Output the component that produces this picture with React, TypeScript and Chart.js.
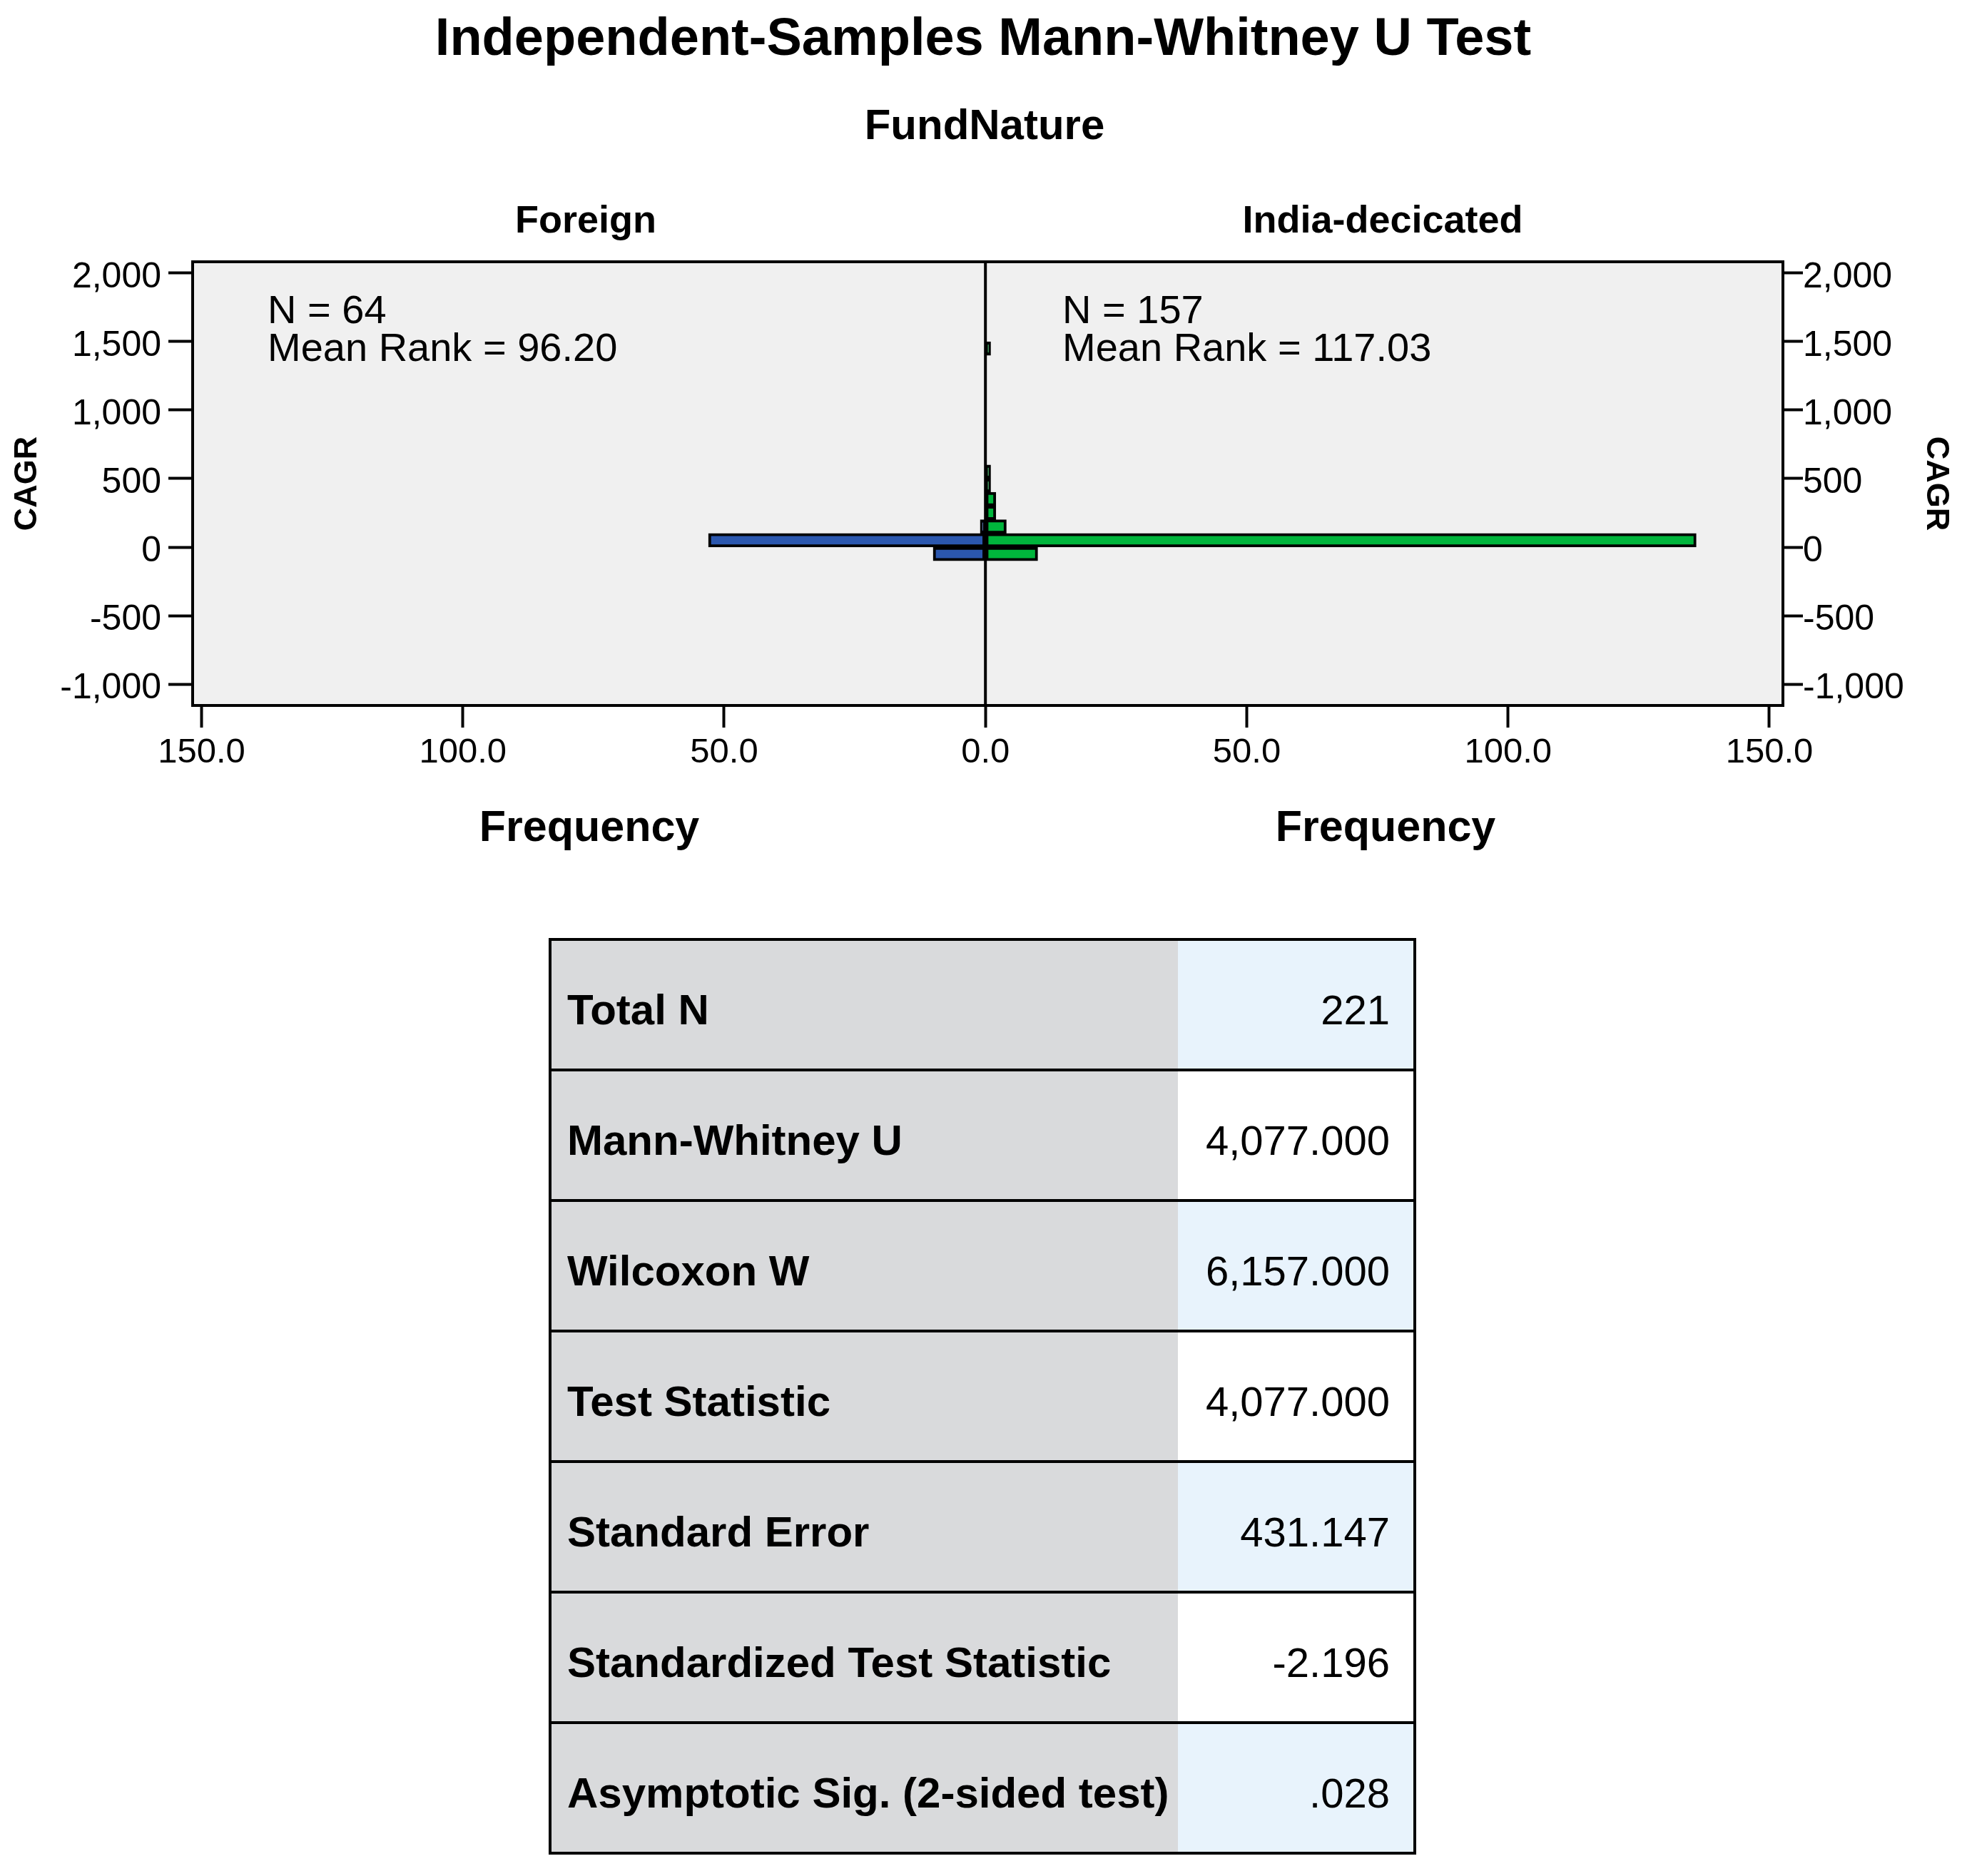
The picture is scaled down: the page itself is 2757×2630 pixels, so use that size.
import React, { useEffect, useRef } from "react";
import { Chart, registerables } from "chart.js";

Chart.register(...registerables);

// ---------- data ----------
const binCenters = [-50, 50, 150, 250, 350, 450, 550, 1450];
const foreignCounts = [10, 53, 1, 0, 0, 0, 0, 0];
const indiaCounts = [10, 136, 4, 2, 2, 1, 1, 1];
const yTickValues = [-1000, -500, 0, 500, 1000, 1500, 2000];
const xTickValues = [-150, -100, -50, 0, 50, 100, 150];
const groupNames = ["Foreign", "India-decicated"];
const groupN = [64, 157];
const groupMeanRank = ["96.20", "117.03"];
const chartTitle = "Independent-Samples Mann-Whitney U Test";
const groupingVariable = "FundNature";
const yAxisTitle = "CAGR";
const xAxisTitle = "Frequency";
const tableLabels = [
  "Total N",
  "Mann-Whitney U",
  "Wilcoxon W",
  "Test Statistic",
  "Standard Error",
  "Standardized Test Statistic",
  "Asymptotic Sig. (2-sided test)",
];
const tableValues = ["221", "4,077.000", "6,157.000", "4,077.000", "431.147", "-2.196", ".028"];

// ---------- layout / style ----------
const FONT = "Arial, 'Liberation Sans', Helvetica, sans-serif";
const W = 2757;
const CANVAS_H = 1230;
const PLOT_TOP = 367;
const PLOT_BOTTOM = 989;
const LEFT_AXIS_W = 270;
const RIGHT_AXIS_W = 258;
const Y_MIN = -1156;
const Y_MAX = 2083;
const X_MIN = -151.7;
const X_MAX = 152.6;
const BLUE = "#2B57AE";
const GREEN = "#00B53C";

const decorPlugin = {
  id: "decor",
  beforeDraw(chart: any) {
    const { ctx, chartArea: a } = chart;
    ctx.save();
    ctx.fillStyle = "#F0F0F0";
    ctx.fillRect(a.left, a.top, a.right - a.left, a.bottom - a.top);
    ctx.restore();
  },
  afterDatasetsDraw(chart: any) {
    const { ctx, chartArea: a } = chart;
    const x0 = chart.scales.x.getPixelForValue(0);
    ctx.save();
    ctx.strokeStyle = "#000";
    ctx.lineWidth = 4;
    ctx.beginPath();
    ctx.moveTo(x0, a.top);
    ctx.lineTo(x0, a.bottom);
    ctx.stroke();
    ctx.strokeRect(a.left, a.top, a.right - a.left, a.bottom - a.top);
    ctx.restore();
  },
  afterDraw(chart: any) {
    const { ctx } = chart;
    ctx.save();
    ctx.fillStyle = "#000";
    ctx.textBaseline = "middle";
    ctx.textAlign = "center";
    ctx.font = `bold 74px ${FONT}`;
    ctx.fillText(chartTitle, 1378, 57);
    ctx.font = `bold 60px ${FONT}`;
    ctx.fillText(groupingVariable, 1380, 178);
    ctx.font = `bold 54px ${FONT}`;
    ctx.fillText(groupNames[0], 821, 311);
    ctx.fillText(groupNames[1], 1938, 311);
    ctx.font = `bold 61px ${FONT}`;
    ctx.fillText(xAxisTitle, 826, 1162);
    ctx.fillText(xAxisTitle, 1942, 1162);

    ctx.textAlign = "left";
    ctx.font = `56px ${FONT}`;
    const nx = [375, 1489];
    for (let i = 0; i < 2; i++) {
      ctx.fillText(`N = ${groupN[i]}`, nx[i], 438);
      ctx.fillText(`Mean Rank = ${groupMeanRank[i]}`, nx[i], 491);
    }

    ctx.textAlign = "center";
    ctx.font = `bold 45px ${FONT}`;
    const cy = (chart.chartArea.top + chart.chartArea.bottom) / 2;
    ctx.save();
    ctx.translate(39, cy);
    ctx.rotate(-Math.PI / 2);
    ctx.fillText(yAxisTitle, 0, 0);
    ctx.restore();
    ctx.save();
    ctx.translate(2713, cy);
    ctx.rotate(Math.PI / 2);
    ctx.fillText(yAxisTitle, 0, 0);
    ctx.restore();
    ctx.restore();
  },
};

const yTickCb = (v: any) => Number(v).toLocaleString("en-US");

export default function App() {
  const canvasRef = useRef<HTMLCanvasElement | null>(null);

  useEffect(() => {
    if (!canvasRef.current) return;
    const foreignData = binCenters
      .map((c, i) => ({ y: c, x: -foreignCounts[i], n: foreignCounts[i] }))
      .filter((d) => d.n !== 0);
    const indiaData = binCenters
      .map((c, i) => ({ y: c, x: indiaCounts[i] }))
      .filter((d) => d.x !== 0);

    const chart = new Chart(canvasRef.current, {
      type: "bar",
      data: {
        datasets: [
          {
            label: groupNames[0],
            data: foreignData as any,
            backgroundColor: BLUE,
            borderColor: "#000",
            borderWidth: 4,
            borderSkipped: false,
            categoryPercentage: 1,
            barPercentage: 1,
            xAxisID: "x",
            yAxisID: "y",
          },
          {
            label: groupNames[1],
            data: indiaData as any,
            backgroundColor: GREEN,
            borderColor: "#000",
            borderWidth: 4,
            borderSkipped: false,
            categoryPercentage: 1,
            barPercentage: 1,
            xAxisID: "x",
            yAxisID: "y",
          },
        ],
      },
      options: {
        indexAxis: "y",
        responsive: false,
        animation: false,
        layout: { padding: { top: PLOT_TOP, left: 0, right: 0, bottom: 0 } },
        plugins: { legend: { display: false }, tooltip: { enabled: false }, title: { display: false } },
        scales: {
          x: {
            type: "linear",
            position: "bottom",
            min: X_MIN,
            max: X_MAX,
            offset: false,
            stacked: true,
            afterBuildTicks: (s: any) => {
              s.ticks = xTickValues.map((v) => ({ value: v }));
            },
            afterFit: (s: any) => {
              s.height = CANVAS_H - PLOT_BOTTOM;
            },
            grid: { offset: false, drawOnChartArea: false, drawTicks: true, tickLength: 31, tickWidth: 4, tickColor: "#000" },
            border: { display: true, color: "#000", width: 4 },
            ticks: {
              color: "#000",
              padding: 6,
              maxRotation: 0,
              autoSkip: false,
              font: { family: FONT, size: 49 },
              callback: (v: any) => Math.abs(Number(v)).toFixed(1),
            },
          },
          y: {
            type: "linear",
            position: "left",
            min: Y_MIN,
            max: Y_MAX,
            offset: false,
            stacked: true,
            afterBuildTicks: (s: any) => {
              s.ticks = yTickValues.map((v) => ({ value: v }));
            },
            afterFit: (s: any) => {
              s.width = LEFT_AXIS_W;
            },
            grid: { offset: false, drawOnChartArea: false, drawTicks: true, tickLength: 34, tickWidth: 4, tickColor: "#000" },
            border: { display: true, color: "#000", width: 4 },
            ticks: { color: "#000", padding: 10, labelOffset: 6, autoSkip: false, font: { family: FONT, size: 50 }, callback: yTickCb },
          },
          y2: {
            type: "linear",
            position: "right",
            min: Y_MIN,
            max: Y_MAX,
            offset: false,
            afterBuildTicks: (s: any) => {
              s.ticks = yTickValues.map((v) => ({ value: v }));
            },
            afterFit: (s: any) => {
              s.width = RIGHT_AXIS_W;
            },
            grid: { offset: false, drawOnChartArea: false, drawTicks: true, tickLength: 28, tickWidth: 4, tickColor: "#000" },
            border: { display: true, color: "#000", width: 4 },
            ticks: { color: "#000", padding: 0, labelOffset: 6, autoSkip: false, font: { family: FONT, size: 50 }, callback: yTickCb },
          },
        },
      } as any,
      plugins: [decorPlugin],
    });
    return () => chart.destroy();
  }, []);

  const TABLE_LEFT = 771;
  const TABLE_TOP = 1317;
  const ROW_H = 183;
  const LABEL_W = 880;
  const VALUE_W = 332;

  return (
    <div style={{ position: "absolute", left: 0, top: 0, width: W, height: 2630, background: "#fff", fontFamily: FONT }}>
      <canvas ref={canvasRef} width={W} height={CANVAS_H} style={{ position: "absolute", left: 0, top: 0, width: W, height: CANVAS_H }} />
      {tableLabels.map((label, i) => (
        <div key={i} style={{ position: "absolute", left: TABLE_LEFT, top: TABLE_TOP + i * ROW_H, width: LABEL_W + VALUE_W, height: ROW_H }}>
          <div
            style={{
              position: "absolute",
              left: 0,
              top: 0,
              width: LABEL_W,
              height: ROW_H,
              background: "#D9DADC",
              display: "flex",
              alignItems: "center",
              boxSizing: "border-box",
              paddingLeft: 24,
              paddingTop: 14,
              fontWeight: "bold",
              fontSize: 60,
              color: "#000",
              whiteSpace: "nowrap",
            }}
          >
            {label}
          </div>
          <div
            style={{
              position: "absolute",
              left: LABEL_W,
              top: 0,
              width: VALUE_W,
              height: ROW_H,
              background: i % 2 === 0 ? "#E8F3FC" : "#FFFFFF",
              display: "flex",
              alignItems: "center",
              justifyContent: "flex-end",
              boxSizing: "border-box",
              paddingRight: 35,
              paddingTop: 14,
              fontSize: 58,
              color: "#000",
              whiteSpace: "nowrap",
            }}
          >
            {tableValues[i]}
          </div>
        </div>
      ))}
      {tableLabels.slice(1).map((_, i) => (
        <div
          key={"h" + i}
          style={{ position: "absolute", left: TABLE_LEFT, top: TABLE_TOP + (i + 1) * ROW_H - 2, width: LABEL_W + VALUE_W, height: 4, background: "#000" }}
        />
      ))}
      <div
        style={{
          position: "absolute",
          left: TABLE_LEFT - 2,
          top: TABLE_TOP - 2,
          width: LABEL_W + VALUE_W + 4,
          height: ROW_H * tableLabels.length + 4,
          border: "4px solid #000",
          boxSizing: "border-box",
        }}
      />
    </div>
  );
}
